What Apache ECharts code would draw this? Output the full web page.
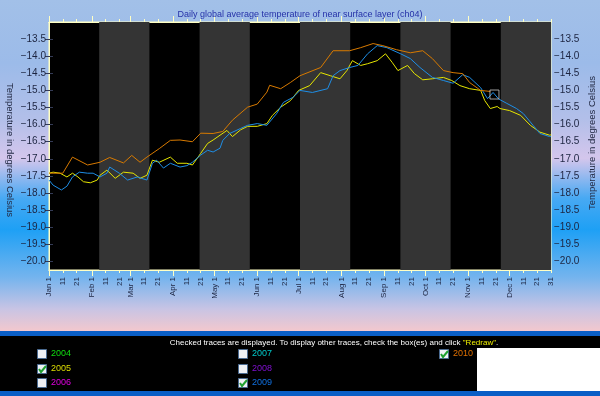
<!DOCTYPE html>
<html><head><meta charset="utf-8">
<script src="https://cdn.jsdelivr.net/npm/echarts@6/dist/echarts.min.js"></script>
<style>html,body{margin:0;padding:0;background:#fff}#c{width:600px;height:396px}</style>
</head><body><div id="c"></div>
<script>
const chartTitle = 'Daily global average temperature of near surface layer (ch04)';
const yName = 'Temperature in degrees Celsius';
const monthNames = ['Jan','Feb','Mar','Apr','May','Jun','Jul','Aug','Sep','Oct','Nov','Dec'];
const monthStartDays = [0,31,59,90,120,151,181,212,243,273,304,334];
const lastDay = 364;
const yTicks = [-20.0,-19.5,-19.0,-18.5,-18.0,-17.5,-17.0,-16.5,-16.0,-15.5,-15.0,-14.5,-14.0,-13.5];
const yMin = -20.25, yMax = -13.0;

// [day of year (0 = Jan 1), temperature °C]
const s2005 = [[0,-17.42],[3,-17.39],[8,-17.42],[13,-17.53],[17,-17.42],[21,-17.53],[25,-17.67],[30,-17.7],[35,-17.62],[37,-17.48],[42,-17.33],[48,-17.57],[54,-17.39],[61,-17.42],[66,-17.57],[71,-17.48],[75,-17.04],[80,-17.1],[88,-16.95],[93,-17.13],[100,-17.13],[104,-17.18],[110,-16.84],[115,-16.55],[119,-16.45],[124,-16.31],[129,-16.17],[133,-16.35],[139,-16.15],[144,-16.05],[151,-16.05],[158,-15.97],[162,-15.73],[168,-15.49],[175,-15.3],[181,-15.0],[189,-14.86],[197,-14.48],[204,-14.57],[211,-14.66],[216,-14.42],[220,-14.13],[226,-14.27],[231,-14.22],[238,-14.13],[244,-13.93],[249,-14.19],[253,-14.42],[260,-14.27],[265,-14.51],[271,-14.69],[278,-14.66],[286,-14.62],[292,-14.71],[298,-14.86],[305,-14.95],[313,-15.0],[316,-15.3],[320,-15.53],[325,-15.47],[327,-15.53],[334,-15.59],[342,-15.73],[349,-16.02],[356,-16.22],[363,-16.31],[364,-16.3]];
const s2009 = [[0,-17.62],[3,-17.77],[9,-17.91],[13,-17.8],[17,-17.53],[22,-17.39],[28,-17.42],[32,-17.42],[37,-17.53],[42,-17.42],[44,-17.24],[51,-17.42],[57,-17.62],[64,-17.53],[71,-17.62],[75,-17.13],[78,-17.04],[83,-17.27],[88,-17.13],[95,-17.24],[100,-17.2],[104,-17.1],[110,-16.89],[115,-16.75],[119,-16.8],[124,-16.69],[126,-16.46],[131,-16.26],[139,-16.11],[144,-16.02],[151,-15.97],[158,-16.02],[165,-15.68],[170,-15.35],[177,-15.2],[182,-15.0],[191,-15.06],[202,-14.95],[206,-14.57],[211,-14.42],[218,-14.33],[224,-14.27],[231,-13.93],[238,-13.69],[245,-13.75],[255,-13.93],[262,-14.07],[269,-14.33],[278,-14.62],[286,-14.71],[293,-14.79],[300,-14.54],[305,-14.62],[313,-14.92],[318,-15.24],[322,-15.06],[326,-15.25],[332,-15.38],[339,-15.53],[344,-15.68],[351,-16.02],[356,-16.26],[363,-16.35],[364,-16.35]];
const s2010 = [[0,-17.42],[10,-17.42],[17,-16.95],[28,-17.18],[37,-17.1],[44,-16.96],[54,-17.12],[60,-16.9],[66,-17.1],[71,-16.95],[80,-16.7],[88,-16.46],[95,-16.45],[104,-16.5],[110,-16.25],[119,-16.26],[126,-16.2],[133,-15.87],[144,-15.49],[151,-15.4],[158,-15.05],[160,-14.85],[168,-14.95],[175,-14.77],[182,-14.57],[197,-14.33],[206,-13.84],[218,-13.84],[226,-13.75],[235,-13.63],[242,-13.69],[252,-13.81],[262,-13.9],[271,-13.84],[278,-14.07],[286,-14.42],[293,-14.48],[300,-14.51],[305,-14.77],[313,-15.0],[320,-15.03]];
const currentMarker = [[323,-15.12]];

const seriesNames = ['2005','2009','2010'];
const seriesColors = ['#e6e600','#1e8ee6','#d87a00'];

// tick positions / labels
const minorDays = [], minorLabels = {}, majorDays = [];
monthStartDays.forEach((d,i)=>{
  majorDays.push(d);
  [0,10,20].forEach(o=>{ minorDays.push(d+o); minorLabels[d+o] = o===0 ? monthNames[i]+' 1' : String(o+1); });
});
minorDays.push(lastDay); minorLabels[lastDay] = '31';

const FONT = 'Liberation Sans';
const chart = echarts.init(document.getElementById('c'));
const bandW = lastDay/10;
const bands = [];
for (let i=1;i<10;i+=2) bands.push([{xAxis: i*bandW},{xAxis:(i+1)*bandW}]);

const axisLineColor = '#ffffc4';
function xAx(pos, major, labels){
  return {type:'value', min:0, max:lastDay, position:pos, splitLine:{show:false},
    axisLine:{show:true, lineStyle:{color:axisLineColor}},
    axisTick:{show:true, length: major?6:3, lineStyle:{color:axisLineColor}, customValues: major?majorDays:minorDays},
    axisLabel:{show:labels, rotate:90, fontSize:8, color:'#1c2440', fontFamily:FONT, margin:7,
      customValues:minorDays, formatter:(v)=>minorLabels[Math.round(v)]||''}};
}
function yAx(pos){
  return {type:'value', min:yMin, max:yMax, position:pos, splitLine:{show:false},
    axisLine:{show:true, lineStyle:{color:axisLineColor}},
    axisTick:{show:true, length:4, lineStyle:{color:'#333a55'}, customValues:yTicks},
    axisLabel:{fontSize:10, color:'#1c2440', fontFamily:FONT, margin:3, customValues:yTicks,
      formatter:(v)=>v.toFixed(1).replace('-','\u2212')}};
}

const series = [s2005,s2009,s2010].map((d,i)=>({
  name: seriesNames[i], type:'line', data:d, xAxisIndex:0, yAxisIndex:0,
  showSymbol:false, symbol:'none', lineStyle:{width:1, color:seriesColors[i]}, z:3, silent:true
}));
series[0].markArea = {silent:true, itemStyle:{color:'#343434'}, data:bands, z:1};
series.push({type:'scatter', data:currentMarker, symbol:'rect', symbolSize:9, z:5,
  itemStyle:{color:'rgba(0,0,0,0)', borderColor:'#c8c8c8', borderWidth:1}, silent:true});

const bg = new echarts.graphic.LinearGradient(0,0,0,1,[
  {offset:0, color:'#a2c0e8'},{offset:0.16, color:'#9cbbe9'},{offset:0.3, color:'#b2bfe9'},
  {offset:0.4, color:'#d4c6ec'},{offset:0.5, color:'#48a9f3'},{offset:0.58, color:'#1ea0f5'},
  {offset:0.7, color:'#74b4ee'},{offset:0.78, color:'#c8c4e4'},{offset:0.84, color:'#f6c8cc'},{offset:1, color:'#f6c8cc'}]);

// bottom panel
const boxes = [
  {year:'2004', color:'#10dd10', x:37, y:349, checked:false},
  {year:'2005', color:'#dddd00', x:37, y:364, checked:true},
  {year:'2006', color:'#e000e0', x:37, y:378, checked:false},
  {year:'2007', color:'#00c8c8', x:238, y:349, checked:false},
  {year:'2008', color:'#8010d0', x:238, y:364, checked:false},
  {year:'2009', color:'#1070e0', x:238, y:378, checked:true},
  {year:'2010', color:'#e07000', x:439, y:349, checked:true}
];
const graphics = [
  {type:'text', x:10, y:150, rotation:-Math.PI/2, style:{text:yName, fill:'#222a44', font:'9.5px '+FONT, align:'center', verticalAlign:'middle'}, silent:true},
  {type:'text', x:592, y:143, rotation:Math.PI/2, style:{text:yName, fill:'#222a44', font:'9.5px '+FONT, align:'center', verticalAlign:'middle'}, silent:true},
  {type:'rect', shape:{x:0,y:331,width:600,height:5}, style:{fill:'#0a5ec6'}, silent:true},
  {type:'rect', shape:{x:0,y:336,width:600,height:55}, style:{fill:'#000'}, silent:true},
  {type:'rect', shape:{x:0,y:391,width:600,height:5}, style:{fill:'#0a5ec6'}, silent:true},
  {type:'rect', shape:{x:477,y:348,width:123,height:43}, style:{fill:'#fff'}, silent:true},
  {type:'text', x:334, y:343, style:{text:'Checked traces are displayed. To display other traces, check the box(es) and click {y|"Redraw"}.',
    fill:'#fff', font:'8px '+FONT, align:'center', verticalAlign:'middle', rich:{y:{fill:'#f0f000', font:'8px '+FONT}}}, silent:true}
];
boxes.forEach(b=>{
  graphics.push({type:'rect', shape:{x:b.x+0.5,y:b.y+0.5,width:9,height:9}, style:{fill:'#eef0f4', stroke:'#4a6a90', lineWidth:1}, silent:true});
  if (b.checked) graphics.push({type:'polyline', shape:{points:[[b.x+2,b.y+5],[b.x+4,b.y+8],[b.x+9,b.y+2]]}, style:{stroke:'#20a030', lineWidth:2, fill:null}, silent:true});
  graphics.push({type:'text', x:b.x+14, y:b.y+5, style:{text:b.year, fill:b.color, font:'9px '+FONT, verticalAlign:'middle'}, silent:true});
});

chart.setOption({
  animation:false,
  backgroundColor:bg,
  title:{text:chartTitle, left:'center', top:5, textStyle:{fontSize:9, fontWeight:'normal', color:'#2632a8', fontFamily:FONT}},
  grid:{left:49, top:22, width:502, height:248, containLabel:false, outerBoundsMode:'none', show:true, backgroundColor:'#000', borderColor:axisLineColor, borderWidth:1},
  xAxis:[xAx('bottom',false,true), xAx('bottom',true,false), xAx('top',false,false), xAx('top',true,false)],
  yAxis:[yAx('left'), yAx('right')],
  series:series,
  graphic:graphics
});
</script></body></html>
